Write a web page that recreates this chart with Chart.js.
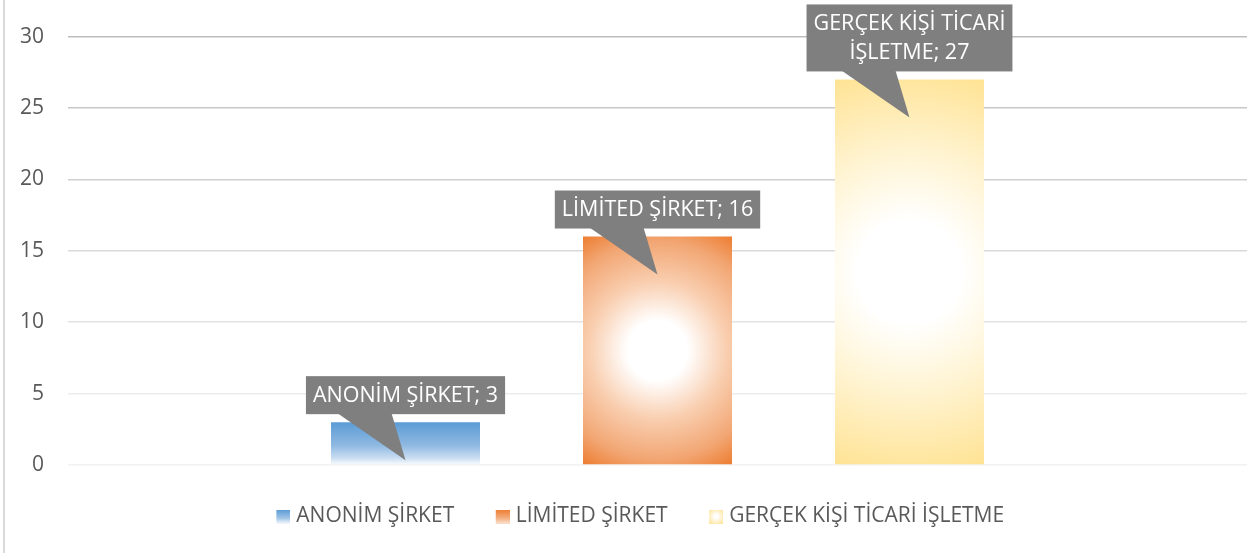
<!DOCTYPE html>
<html>
<head>
<meta charset="utf-8">
<script src="https://cdn.jsdelivr.net/npm/chart.js@4"></script>
<style>
  html, body { margin: 0; padding: 0; background: #fff; }
  #wrap { width: 1253px; height: 553px; position: relative; }
</style>
</head>
<body>
<div id="wrap"><canvas id="grafik"></canvas></div>
<script>
// Seriler (her şirket türü ayrı bir seri)
const categories = ['ANONİM ŞİRKET', 'LİMİTED ŞİRKET', 'GERÇEK KİŞİ TİCARİ İŞLETME'];
const values = [3, 16, 27];
const groupLabels = [''];
const yTicks = [0, 5, 10, 15, 20, 25, 30];

// Izgara çizgileri üstten alta açılıyor
const gridGrays = { 0: '#f2f2f2', 5: '#ececec', 10: '#e3e3e3', 15: '#dadada', 20: '#d0d0d0', 25: '#c8c8c8', 30: '#bdbdbd' };

const FONT = "'Open Sans', sans-serif";
Chart.defaults.font.family = FONT;
Chart.defaults.font.size = 21;
Chart.defaults.color = '#595959';

// Lejant işaretleri (küçük kare, sağa yaslı)
const MARK = 14, BOXW = 43, IMGW = BOXW + 9;
function makeMarker(i) {
    const c = document.createElement('canvas');
    c.width = IMGW; c.height = MARK;
    const g = c.getContext('2d');
    const x0 = IMGW - MARK;
    let grad;
    if (i === 0) {
        grad = g.createLinearGradient(0, 0, 0, MARK);
        grad.addColorStop(0, '#5b9bd5'); grad.addColorStop(0.6, '#9dc3e6'); grad.addColorStop(1, '#f4f8fc');
    } else if (i === 1) {
        grad = g.createLinearGradient(0, 0, 0, MARK);
        grad.addColorStop(0, '#ed7d31'); grad.addColorStop(0.6, '#f4ac7c'); grad.addColorStop(1, '#fbe0cd');
    } else {
        grad = g.createRadialGradient(x0 + MARK / 2, MARK / 2, 0, x0 + MARK / 2, MARK / 2, MARK * 0.72);
        grad.addColorStop(0, '#ffffff'); grad.addColorStop(0.2, '#ffffff'); grad.addColorStop(1, '#ffe08a');
    }
    g.fillStyle = grad;
    g.fillRect(x0, 0, MARK, MARK);
    return c;
}
const markers = categories.map((c, i) => makeMarker(i));

// Çubuk dolguları: degrade (çubuğun konumuna göre)
const gradientPlugin = {
    id: 'barGradients',
    beforeDatasetsDraw(chart) {
        const ctx = chart.ctx;
        chart.data.datasets.forEach((ds, di) => {
            chart.getDatasetMeta(di).data.forEach(el => {
                const top = el.y, bottom = el.base;
                const cx = el.x, cy = (top + bottom) / 2;
                let grad;
                if (di === 0) {
                    grad = ctx.createLinearGradient(0, top, 0, bottom);
                    grad.addColorStop(0, '#5b9bd5');
                    grad.addColorStop(0.55, '#8fb9e2');
                    grad.addColorStop(0.85, '#c9ddf1');
                    grad.addColorStop(1, '#f6f9fd');
                } else {
                    const r = Math.hypot(el.width / 2, (bottom - top) / 2);
                    grad = ctx.createRadialGradient(cx, cy, 0, cx, cy, r);
                    if (di === 1) {
                        grad.addColorStop(0, '#ffffff');
                        grad.addColorStop(0.22, '#ffffff');
                        grad.addColorStop(0.5, '#f9cfb1');
                        grad.addColorStop(0.8, '#f2a673');
                        grad.addColorStop(1, '#ed7d31');
                    } else {
                        grad.addColorStop(0, '#ffffff');
                        grad.addColorStop(0.25, '#ffffff');
                        grad.addColorStop(0.6, '#fff3cf');
                        grad.addColorStop(1, '#ffe394');
                    }
                }
                el.options.backgroundColor = grad;
            });
        });
    }
};

// Veri etiketleri: gri konuşma balonu
function wrapText(ctx, text, maxW) {
    const words = text.split(' ');
    const lines = [];
    let line = '';
    words.forEach(w => {
        const test = line ? line + ' ' + w : w;
        if (ctx.measureText(test).width > maxW && line) {
            lines.push(line); line = w;
        } else line = test;
    });
    lines.push(line);
    return lines;
}
const calloutPlugin = {
    id: 'callouts',
    afterDatasetsDraw(chart) {
        const ctx = chart.ctx;
        ctx.save();
        ctx.font = '21.5px ' + FONT;
        chart.data.datasets.forEach((ds, di) => {
            chart.getDatasetMeta(di).data.forEach((el, j) => {
                const text = ds.label + '; ' + ds.data[j];
                const lines = wrapText(ctx, text, 230);
                const w = Math.max(...lines.map(l => ctx.measureText(l).width)) + 14;
                const h = lines.length * 29 + 9;
                const bottom = el.y - 8, top = bottom - h, left = el.x - w / 2;
                ctx.fillStyle = '#7f7f7f';
                ctx.fillRect(left, top, w, h);
                ctx.beginPath();
                ctx.moveTo(el.x - 68, bottom - 1);
                ctx.lineTo(el.x - 14, bottom - 1);
                ctx.lineTo(el.x, el.y + 38);
                ctx.closePath();
                ctx.fill();
                ctx.fillStyle = '#ffffff';
                ctx.textAlign = 'center';
                ctx.textBaseline = 'middle';
                lines.forEach((l, k) => ctx.fillText(l, el.x, top + 4.5 + 29 * k + 15));
            });
        });
        ctx.restore();
    }
};

// Sol kenar çizgisi
const framePlugin = {
    id: 'frame',
    beforeDraw(chart) {
        const ctx = chart.ctx;
        ctx.save();
        ctx.fillStyle = '#d9d9d9';
        ctx.fillRect(3, 0, 2, chart.height);
        ctx.restore();
    }
};

const datasets = categories.map((c, i) => ({
    label: c,
    data: [values[i]],
    backgroundColor: ['#5b9bd5', '#ed7d31', '#ffe699'][i],
    borderWidth: 0,
    categoryPercentage: 0.6412,
    barPercentage: 0.5913
}));

new Chart(document.getElementById('grafik'), {
    type: 'bar',
    data: { labels: groupLabels, datasets: datasets },
    plugins: [framePlugin, gradientPlugin, calloutPlugin],
    options: {
        responsive: true,
        maintainAspectRatio: false,
        animation: false,
        layout: { padding: { left: 0, right: 6, top: 36, bottom: 16 } },
        scales: {
            x: {
                grid: { display: false },
                border: { display: false },
                ticks: { display: false },
                afterFit: s => { s.height = 33; }
            },
            y: {
                min: 0,
                max: 30,
                afterBuildTicks: s => { s.ticks = yTicks.map(v => ({ value: v })); },
                afterFit: s => { s.width = 68; },
                border: { display: false },
                grid: {
                    drawTicks: false,
                    lineWidth: 1.5,
                    color: c => gridGrays[c.tick.value] || '#d9d9d9'
                },
                ticks: { padding: 24, color: '#595959', font: { size: 21 } }
            }
        },
        plugins: {
            legend: {
                position: 'bottom',
                labels: {
                    usePointStyle: true,
                    pointStyleWidth: BOXW,
                    boxHeight: MARK,
                    padding: 8,
                    color: '#595959',
                    font: { size: 21 },
                    generateLabels: chart => Chart.defaults.plugins.legend.labels.generateLabels(chart)
                        .map((it, i) => Object.assign(it, { pointStyle: markers[i] }))
                }
            },
            tooltip: { enabled: false }
        }
    }
});
</script>
</body>
</html>
